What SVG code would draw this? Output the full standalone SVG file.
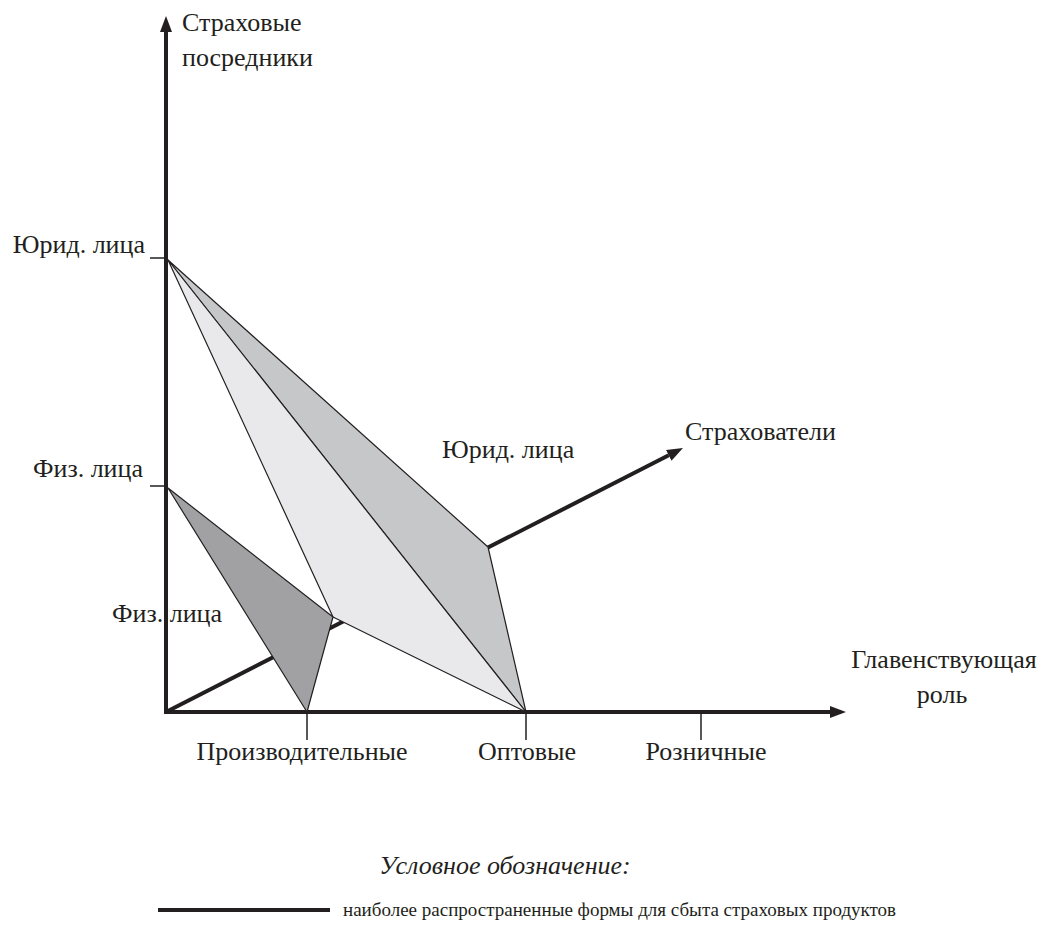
<svg xmlns="http://www.w3.org/2000/svg" width="1043" height="934" viewBox="0 0 1043 934">
<style>
text{font-family:"Liberation Serif","Times New Roman",serif;font-size:26px;fill:#231f20}
.ax{stroke:#231f20;stroke-width:4;fill:none}
.tick{stroke:#231f20;stroke-width:1.5;fill:none}
.poly{stroke:#231f20;stroke-width:1.2;stroke-linejoin:round}
.it{font-style:italic}
.sm{font-size:19px}
</style>
<defs>
<marker id="ah" markerWidth="16" markerHeight="12" refX="0" refY="6" orient="auto" markerUnits="userSpaceOnUse">
<path d="M0,0 L16,6 L0,12 Z" fill="#231f20"/>
</marker>
</defs>
<g id="connectors">
<line class="ax" x1="166" y1="714" x2="166" y2="32" marker-end="url(#ah)"/>
<line class="ax" x1="164" y1="712" x2="830" y2="712" marker-end="url(#ah)"/>
<line class="ax" x1="166" y1="712" x2="668.75" y2="455.3" marker-end="url(#ah)"/>
<line class="tick" x1="150" y1="258" x2="166" y2="258"/>
<line class="tick" x1="150" y1="486" x2="166" y2="486"/>
<line class="tick" x1="307" y1="712" x2="307" y2="740"/>
<line class="tick" x1="526" y1="712" x2="526" y2="740"/>
<line class="tick" x1="701" y1="712" x2="701" y2="740"/>
</g>
<g id="shape-legal">
<polygon class="poly" fill="#c6c7c9" points="168,260 488,547 526,712"/>
<polygon class="poly" fill="#e9e9eb" points="168,260 526,712 333,617"/>
</g>
<g id="shape-individual">
<polygon class="poly" fill="#a1a1a4" points="168,488 333,617 307,712"/>
</g>
<g id="labels">
<text x="182" y="31">Страховые</text>
<text x="182" y="66">посредники</text>
<text x="145" y="253" text-anchor="end">Юрид. лица</text>
<text x="143" y="477" text-anchor="end">Физ. лица</text>
<text x="442" y="458">Юрид. лица</text>
<text x="685" y="440">Страхователи</text>
<text x="944" y="668" text-anchor="middle">Главенствующая</text>
<text x="942" y="703" text-anchor="middle">роль</text>
<text x="302" y="760" text-anchor="middle">Производительные</text>
<text x="527" y="760" text-anchor="middle">Оптовые</text>
<text x="706" y="760" text-anchor="middle">Розничные</text>
<text class="it" x="505" y="874" text-anchor="middle">Условное обозначение:</text>
<text class="sm" x="343" y="916">наиболее распространенные формы для сбыта страховых продуктов</text>
</g>
<g id="legend">
<line x1="158" y1="910" x2="330" y2="910" stroke="#231f20" stroke-width="4"/>
</g>
<g id="fiz-label-under-axis">
<text x="112" y="622">Физ. лица</text>
<line class="ax" x1="166" y1="590" x2="166" y2="640"/>
</g>
</svg>
